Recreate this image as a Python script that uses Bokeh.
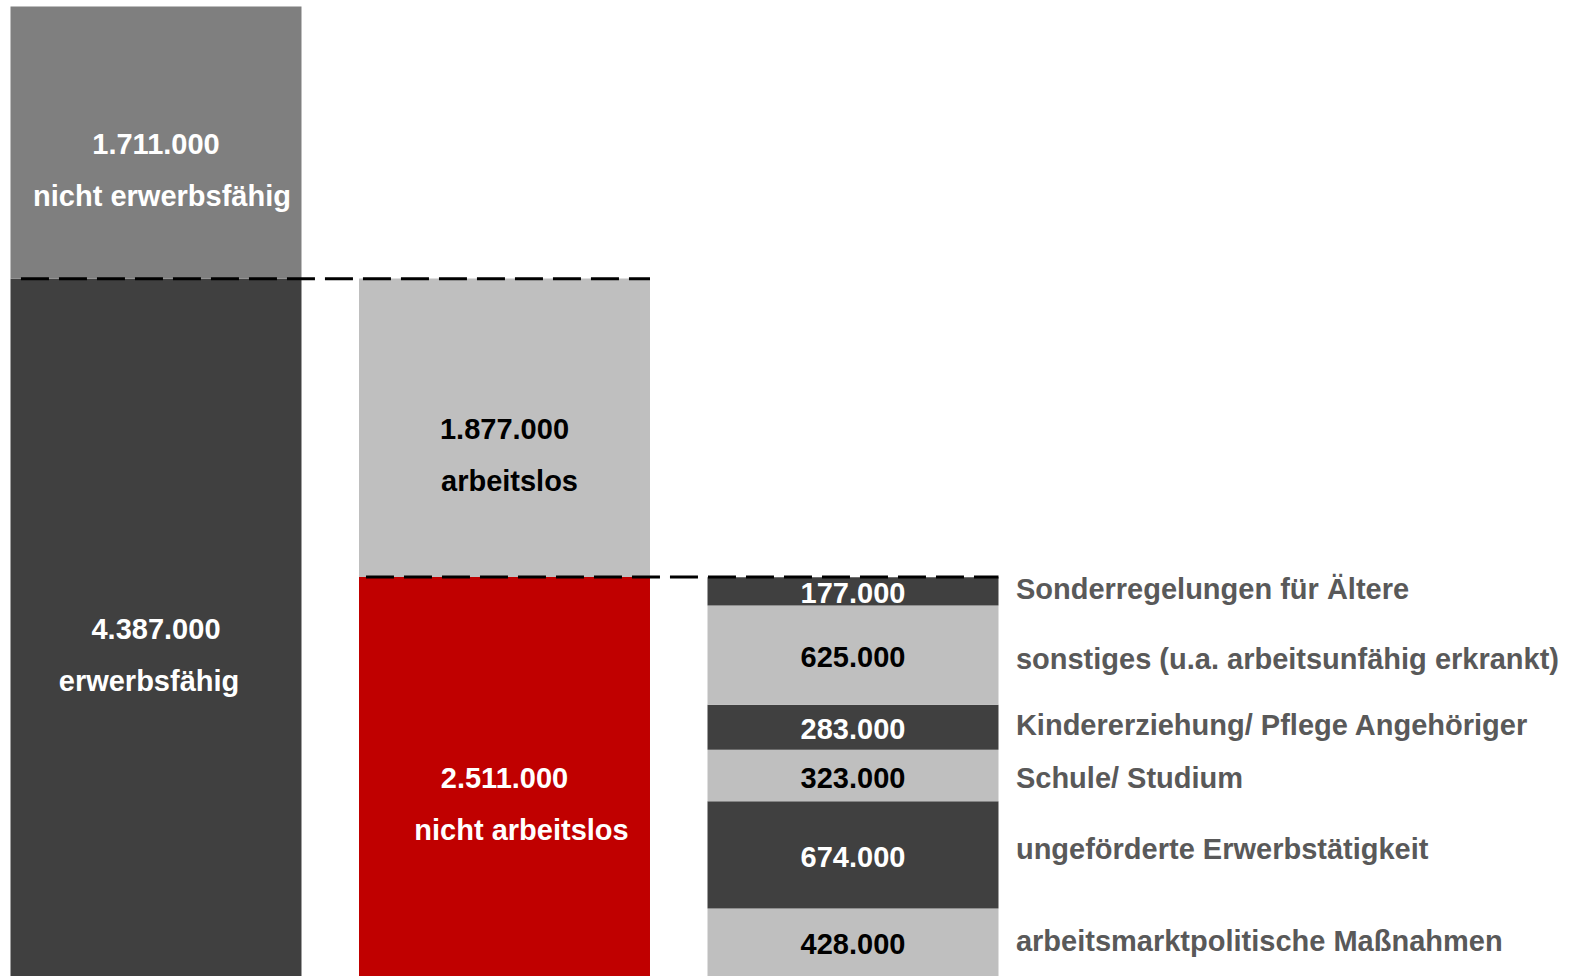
from bokeh.plotting import figure
from bokeh.models import ColumnDataSource
from bokeh.core.properties import value
from bokeh.embed import file_html
from bokeh.resources import INLINE

# ---- data (thousands of people) ----
col1_labels = ["erwerbsfähig", "nicht erwerbsfähig"]
col1_values = [4387, 1711]
col2_labels = ["nicht arbeitslos", "arbeitslos"]
col2_values = [2511, 1877]
col3_labels = ["arbeitsmarktpolitische Maßnahmen", "ungeförderte Erwerbstätigkeit",
               "Schule/ Studium", "Kindererziehung/ Pflege Angehöriger",
               "sonstiges (u.a. arbeitsunfähig erkrankt)", "Sonderregelungen für Ältere"]
col3_values = [428, 674, 323, 283, 625, 177]

# ---- style ----
col1_colors = ["#404040", "#7F7F7F"]
col2_colors = ["#C00000", "#BFBFBF"]
col3_colors = ["#BFBFBF", "#404040", "#BFBFBF", "#404040", "#BFBFBF", "#404040"]
col1_text = ["white", "white"]
col2_text = ["white", "black"]
col3_text = ["black", "white", "black", "white", "black", "white"]
FONT = value("Liberation Sans")
FS = "29px"
BAR_W = 0.835
W, H = 1574, 976
PX_PER_UNIT = 348.5
PX_PER_K = 0.15907

x0 = -155.5 / PX_PER_UNIT
y_lo = 0
y_hi = H / PX_PER_K

p = figure(width=W, height=H, output_backend="svg", toolbar_location=None,
           x_range=(x0, x0 + W / PX_PER_UNIT), y_range=(y_lo, y_hi),
           x_axis_location=None, y_axis_location=None, min_border=0)
p.outline_line_color = None
p.xgrid.visible = False
p.ygrid.visible = False


def fmt(v):
    return f"{v * 1000:,}".replace(",", ".")


def stack(values):
    bottoms, tops, acc = [], [], 0
    for v in values:
        bottoms.append(acc)
        acc += v
        tops.append(acc)
    return bottoms, tops


for xc, vals, cols in [(0, col1_values, col1_colors), (1, col2_values, col2_colors),
                       (2, col3_values, col3_colors)]:
    b, t = stack(vals)
    src = ColumnDataSource(dict(x=[xc] * len(vals), bottom=b, top=t, color=cols))
    p.vbar(x="x", width=BAR_W, bottom="bottom", top="top", fill_color="color",
           line_color=None, source=src)

# dashed connectors
c1b, c1t = stack(col1_values)
c2b, c2t = stack(col2_values)
p.line([-BAR_W / 2 + 0.03, 1 + BAR_W / 2], [c1t[0], c1t[0]], line_color="black",
       line_width=3, line_dash="28 10")
p.line([1 - BAR_W / 2 + 0.02, 2 + BAR_W / 2], [c2b[1], c2b[1]], line_color="black",
       line_width=3, line_dash="28 10")

# two-line labels in col1 and col2
lab_x, lab_y, lab_t, lab_c, lab_xo, lab_yo = [], [], [], [], [], []
name_xoff1 = [-7, 6]
name_xoff2 = [17, 5]
for xc, vals, labels, tcols, nxo in [(0, col1_values, col1_labels, col1_text, name_xoff1),
                                     (1, col2_values, col2_labels, col2_text, name_xoff2)]:
    b, t = stack(vals)
    for i in range(len(vals)):
        mid = (b[i] + t[i]) / 2
        lab_x += [xc, xc]
        lab_y += [mid, mid]
        lab_t += [fmt(vals[i]), labels[i]]
        lab_c += [tcols[i], tcols[i]]
        lab_xo += [0, nxo[i]]
        lab_yo += [1, 53]
src = ColumnDataSource(dict(x=lab_x, y=lab_y, t=lab_t, c=lab_c, xo=lab_xo, yo=lab_yo))
p.text(x="x", y="y", text="t", text_color="c", x_offset="xo", y_offset="yo",
       text_align="center", text_baseline="middle", text_font=FONT,
       text_font_style="bold", text_font_size=FS, source=src)

# col3 numbers and side labels
b3, t3 = stack(col3_values)
mids = [(b + t) / 2 for b, t in zip(b3, t3)]
side_yo = [-1, -6, 2, -2, 4, -2]
src3 = ColumnDataSource(dict(x=[2] * len(mids), y=mids, t=[fmt(v) for v in col3_values],
                             c=col3_text, xs=[2 + BAR_W / 2 + 0.05] * len(mids),
                             lab=col3_labels, yo=side_yo))
p.text(x="x", y="y", text="t", text_color="c", y_offset=2,
       text_align="center", text_baseline="middle", text_font=FONT,
       text_font_style="bold", text_font_size=FS, source=src3)
p.text(x="xs", y="y", text="lab", text_color="#595959", y_offset="yo",
       text_align="left", text_baseline="middle", text_font=FONT,
       text_font_style="bold", text_font_size=FS, source=src3)

open("out.html", "w").write(file_html(p, INLINE))
